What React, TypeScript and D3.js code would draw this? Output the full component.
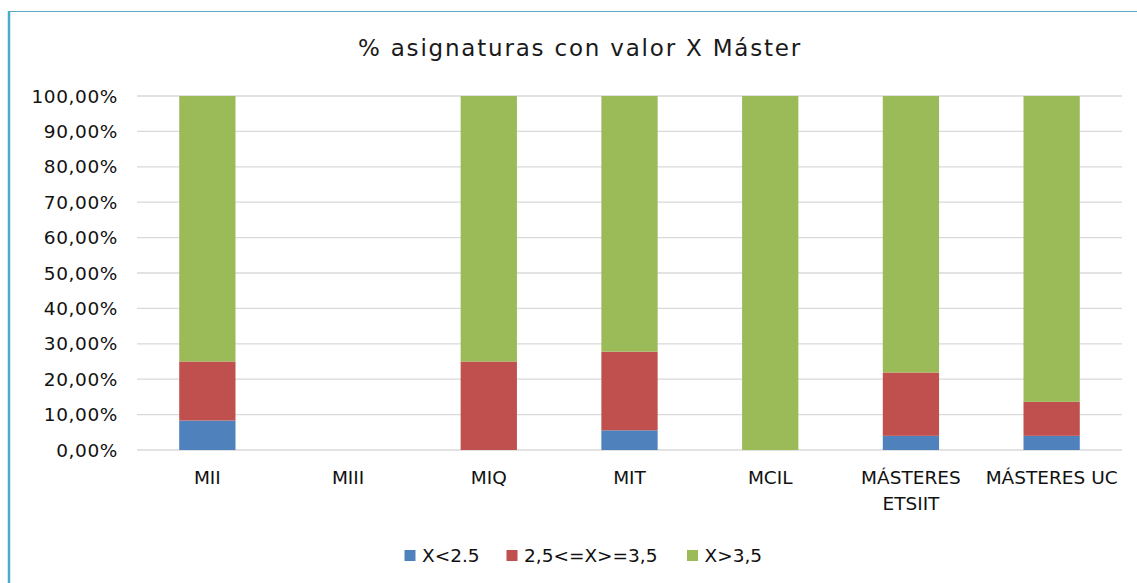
import React, { useEffect, useRef } from "react";
import * as d3 from "d3";

// categories (x axis), label lines
const categories = ["MII", "MIII", "MIQ", "MIT", "MCIL", "MÁSTERES ETSIIT", "MÁSTERES UC"];
const categoryLines = [["MII"], ["MIII"], ["MIQ"], ["MIT"], ["MCIL"], ["MÁSTERES", "ETSIIT"], ["MÁSTERES UC"]];

// series values, fraction of subjects
const seriesNames = ["X<2.5", "2,5<=X>=3,5", "X>3,5"];
const lowValues = [0.0833, 0, 0, 0.0556, 0, 0.04, 0.04];
const midValues = [0.1667, 0, 0.25, 0.2222, 0, 0.179, 0.096];
const highValues = [0.75, 0, 0.75, 0.7222, 1, 0.781, 0.864];

const colors = ["#4F81BD", "#C0504D", "#9BBB59"];
const yTicks = [0, 0.1, 0.2, 0.3, 0.4, 0.5, 0.6, 0.7, 0.8, 0.9, 1];

const W = 1137;
const H = 583;
const labelFont = "'DejaVu Sans', sans-serif";

const App: React.FC = () => {
  const ref = useRef<SVGSVGElement>(null);

  useEffect(() => {
    if (!ref.current) return;
    const svg = d3.select(ref.current);
    svg.selectAll("*").remove();

    // frame (top and left rules only)
    svg.append("line").attr("x1", 9).attr("x2", W).attr("y1", 11.5).attr("y2", 11.5)
      .attr("stroke", "#5AA9C4").attr("stroke-width", 1.2);
    svg.append("line").attr("x1", 9).attr("x2", 9).attr("y1", 11).attr("y2", H)
      .attr("stroke", "#4BACC6").attr("stroke-width", 2.5);

    const x = d3.scaleBand().domain(categories).range([137, 1122]).paddingInner(0.6).paddingOuter(0.3);
    const y = d3.scaleLinear().domain([0, 1]).range([450, 96]);

    // title
    svg.append("text").attr("x", 580).attr("y", 56).attr("text-anchor", "middle")
      .style("font-family", "'DejaVu Sans', Verdana, sans-serif").style("font-size", "23px")
      .style("letter-spacing", "1.8px").attr("fill", "#1a1a1a")
      .text("% asignaturas con valor X Máster");

    // gridlines
    svg.append("g").selectAll("line").data(yTicks).enter().append("line")
      .attr("x1", 137).attr("x2", 1122)
      .attr("y1", (d) => y(d)).attr("y2", (d) => y(d))
      .attr("stroke", "#D9D9D9").attr("stroke-width", 1.3);

    // y tick labels
    const fmt = (d: number) => (d * 100).toFixed(2).replace(".", ",") + "%";
    svg.append("g").selectAll("text").data(yTicks).enter().append("text")
      .attr("x", 118).attr("y", (d) => y(d) + 6.5).attr("text-anchor", "end")
      .style("font-family", labelFont).style("font-size", "18.5px")
      .style("letter-spacing", "0.6px").attr("fill", "#111")
      .text(fmt);

    // stacked bars
    const rows = categories.map((c, i) => ({
      cat: c,
      low: lowValues[i],
      mid: midValues[i],
      high: highValues[i],
    }));
    const stack = d3.stack<any>().keys(["low", "mid", "high"]);
    const layers = stack(rows);

    svg.append("g").selectAll("g").data(layers).enter().append("g")
      .attr("fill", (_d, i) => colors[i])
      .selectAll("rect").data((d) => d).enter().append("rect")
      .attr("x", (d: any) => x(d.data.cat) || 0)
      .attr("width", x.bandwidth())
      .attr("y", (d) => y(d[1]))
      .attr("height", (d) => y(d[0]) - y(d[1]));

    // category labels
    const catG = svg.append("g").selectAll("text").data(categories).enter().append("text")
      .attr("x", (d) => (x(d) || 0) + x.bandwidth() / 2)
      .attr("y", 484).attr("text-anchor", "middle")
      .style("font-family", labelFont).style("font-size", "18.5px").attr("fill", "#111");
    catG.each(function (_d, i) {
      const t = d3.select(this);
      categoryLines[i].forEach((line, j) => {
        t.append("tspan").attr("x", t.attr("x")).attr("dy", j === 0 ? 0 : 26).text(line);
      });
    });

    // legend
    const legendX = [404.5, 506.5, 687];
    const lg = svg.append("g").selectAll("g").data(seriesNames).enter().append("g")
      .attr("transform", (_d, i) => `translate(${legendX[i]},550)`);
    lg.append("rect").attr("x", 0).attr("y", 0).attr("width", 11).attr("height", 11)
      .attr("fill", (_d, i) => colors[i]);
    lg.append("text").attr("x", 17.5).attr("y", 12)
      .style("font-family", labelFont).style("font-size", "18.5px").attr("fill", "#111")
      .text((d) => d);
  }, []);

  return (
    <svg
      ref={ref}
      width={W}
      height={H}
      style={{ position: "absolute", left: 0, top: 0, background: "#fff" }}
    />
  );
};

export default App;
